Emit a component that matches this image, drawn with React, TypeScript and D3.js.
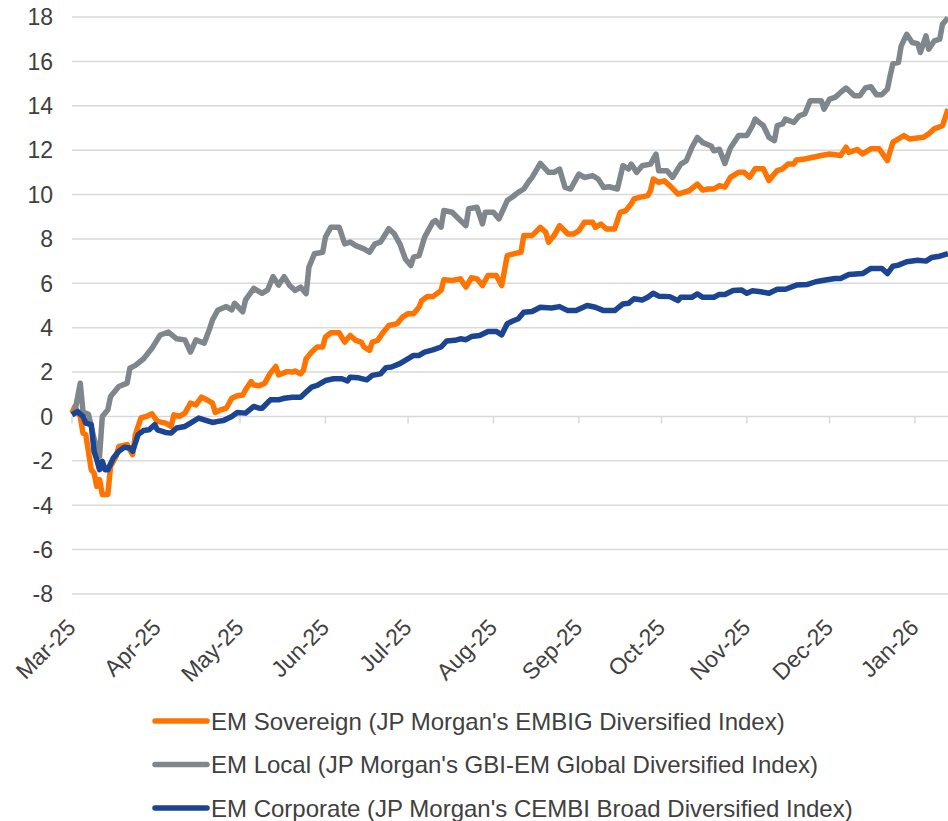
import React, { useRef, useEffect } from "react";
import * as d3 from "d3";

// cumulative total return, %
const sovereign: [string, number][] = [
  ["2025-03-01", 0.15], ["2025-03-02", 0.45], ["2025-03-04", 0.0], ["2025-03-05", -0.75],
  ["2025-03-06", -0.82], ["2025-03-08", -2.4], ["2025-03-09", -2.55], ["2025-03-10", -3.15],
  ["2025-03-11", -2.85], ["2025-03-12", -3.52], ["2025-03-14", -3.52], ["2025-03-15", -2.25],
  ["2025-03-17", -1.8], ["2025-03-18", -1.35], ["2025-03-21", -1.27], ["2025-03-23", -1.72],
  ["2025-03-24", -0.82], ["2025-03-26", -0.07], ["2025-03-28", 0.0], ["2025-03-30", 0.12],
  ["2025-04-01", -0.22], ["2025-04-04", -0.3], ["2025-04-06", -0.45], ["2025-04-07", 0.07],
  ["2025-04-09", 0.0], ["2025-04-11", 0.15], ["2025-04-13", 0.6], ["2025-04-15", 0.52],
  ["2025-04-17", 0.87], ["2025-04-19", 0.75], ["2025-04-21", 0.6], ["2025-04-22", 0.18],
  ["2025-04-24", 0.3], ["2025-04-26", 0.37], ["2025-04-28", 0.82], ["2025-04-30", 0.93],
  ["2025-05-02", 0.97], ["2025-05-03", 1.2], ["2025-05-05", 1.57], ["2025-05-06", 1.42],
  ["2025-05-08", 1.38], ["2025-05-10", 1.5], ["2025-05-12", 1.95], ["2025-05-14", 2.25],
  ["2025-05-15", 1.87], ["2025-05-18", 2.02], ["2025-05-20", 2.0], ["2025-05-21", 2.05],
  ["2025-05-23", 1.92], ["2025-05-24", 2.08], ["2025-05-25", 2.6], ["2025-05-27", 2.9],
  ["2025-05-29", 3.13], ["2025-05-31", 3.13], ["2025-06-01", 3.58], ["2025-06-03", 3.77],
  ["2025-06-06", 3.77], ["2025-06-08", 3.35], ["2025-06-10", 3.65], ["2025-06-12", 3.43],
  ["2025-06-14", 3.35], ["2025-06-15", 3.13], ["2025-06-17", 2.98], ["2025-06-18", 3.35],
  ["2025-06-20", 3.43], ["2025-06-22", 3.8], ["2025-06-24", 4.1], ["2025-06-27", 4.18],
  ["2025-06-29", 4.48], ["2025-07-01", 4.63], ["2025-07-03", 4.63], ["2025-07-05", 4.93],
  ["2025-07-06", 5.23], ["2025-07-08", 5.4], ["2025-07-10", 5.4], ["2025-07-13", 5.68],
  ["2025-07-14", 6.16], ["2025-07-17", 6.13], ["2025-07-20", 6.2], ["2025-07-22", 5.83],
  ["2025-07-24", 6.25], ["2025-07-26", 6.2], ["2025-07-28", 5.9], ["2025-07-30", 6.35],
  ["2025-08-02", 6.35], ["2025-08-04", 5.9], ["2025-08-06", 7.25], ["2025-08-09", 7.35],
  ["2025-08-11", 7.4], ["2025-08-12", 8.15], ["2025-08-15", 8.15], ["2025-08-18", 8.52],
  ["2025-08-20", 8.3], ["2025-08-21", 7.85], ["2025-08-23", 8.15], ["2025-08-25", 8.6],
  ["2025-08-28", 8.22], ["2025-08-30", 8.22], ["2025-09-01", 8.37], ["2025-09-03", 8.75],
  ["2025-09-06", 8.75], ["2025-09-07", 8.52], ["2025-09-09", 8.67], ["2025-09-11", 8.45],
  ["2025-09-14", 8.45], ["2025-09-16", 9.2], ["2025-09-18", 9.27], ["2025-09-20", 9.57],
  ["2025-09-21", 9.8], ["2025-09-23", 9.87], ["2025-09-26", 9.95], ["2025-09-27", 10.17],
  ["2025-09-28", 10.7], ["2025-09-30", 10.55], ["2025-10-02", 10.62], ["2025-10-04", 10.4],
  ["2025-10-07", 10.02], ["2025-10-09", 10.1], ["2025-10-11", 10.17], ["2025-10-14", 10.47],
  ["2025-10-16", 10.2], ["2025-10-18", 10.25], ["2025-10-20", 10.25], ["2025-10-22", 10.4],
  ["2025-10-24", 10.33], ["2025-10-26", 10.77], ["2025-10-29", 11.0], ["2025-10-31", 11.0],
  ["2025-11-02", 10.78], ["2025-11-04", 11.16], ["2025-11-07", 11.16], ["2025-11-09", 10.63],
  ["2025-11-12", 11.08], ["2025-11-14", 11.16], ["2025-11-16", 11.38], ["2025-11-18", 11.38],
  ["2025-11-19", 11.56], ["2025-11-22", 11.6], ["2025-11-25", 11.68], ["2025-11-28", 11.76],
  ["2025-12-01", 11.83], ["2025-12-05", 11.76], ["2025-12-07", 12.13], ["2025-12-08", 11.9],
  ["2025-12-11", 12.03], ["2025-12-13", 11.83], ["2025-12-16", 12.06], ["2025-12-19", 12.06],
  ["2025-12-22", 11.53], ["2025-12-24", 12.36], ["2025-12-25", 12.43], ["2025-12-28", 12.66],
  ["2025-12-30", 12.5], ["2026-01-04", 12.58], ["2026-01-06", 12.73], ["2026-01-08", 12.96],
  ["2026-01-11", 13.1], ["2026-01-13", 13.85],
];

const local: [string, number][] = [
  ["2025-03-01", 0.1], ["2025-03-02", 0.2], ["2025-03-04", 1.5], ["2025-03-05", 0.2],
  ["2025-03-07", 0.1], ["2025-03-09", -1.0], ["2025-03-11", -1.8], ["2025-03-12", 0.0],
  ["2025-03-14", 0.3], ["2025-03-15", 0.9], ["2025-03-18", 1.35], ["2025-03-21", 1.5],
  ["2025-03-22", 2.17], ["2025-03-24", 2.3], ["2025-03-27", 2.6], ["2025-03-30", 3.07],
  ["2025-04-02", 3.67], ["2025-04-05", 3.8], ["2025-04-08", 3.5], ["2025-04-11", 3.45],
  ["2025-04-13", 2.9], ["2025-04-15", 3.45], ["2025-04-18", 3.3], ["2025-04-20", 3.97],
  ["2025-04-21", 4.35], ["2025-04-23", 4.8], ["2025-04-26", 4.95], ["2025-04-28", 4.8],
  ["2025-04-29", 5.1], ["2025-05-02", 4.72], ["2025-05-03", 5.25], ["2025-05-06", 5.77],
  ["2025-05-09", 5.55], ["2025-05-11", 5.7], ["2025-05-13", 6.3], ["2025-05-15", 5.92],
  ["2025-05-17", 6.3], ["2025-05-19", 5.9], ["2025-05-21", 5.68], ["2025-05-23", 5.83],
  ["2025-05-25", 5.53], ["2025-05-26", 6.73], ["2025-05-28", 7.33], ["2025-05-31", 7.4],
  ["2025-06-01", 8.08], ["2025-06-03", 8.53], ["2025-06-06", 8.53], ["2025-06-08", 7.78],
  ["2025-06-10", 7.86], ["2025-06-12", 7.7], ["2025-06-15", 7.55], ["2025-06-17", 7.4],
  ["2025-06-19", 7.78], ["2025-06-21", 7.86], ["2025-06-24", 8.46], ["2025-06-26", 8.23],
  ["2025-06-28", 7.78], ["2025-06-30", 7.1], ["2025-07-02", 6.8], ["2025-07-03", 7.18],
  ["2025-07-05", 7.25], ["2025-07-07", 8.08], ["2025-07-10", 8.76], ["2025-07-11", 8.83],
  ["2025-07-13", 8.53], ["2025-07-14", 9.28], ["2025-07-17", 9.2], ["2025-07-20", 8.83],
  ["2025-07-22", 8.6], ["2025-07-23", 9.36], ["2025-07-26", 9.43], ["2025-07-28", 8.68],
  ["2025-07-29", 9.2], ["2025-08-01", 9.2], ["2025-08-03", 8.9], ["2025-08-06", 9.73],
  ["2025-08-08", 9.9], ["2025-08-10", 10.1], ["2025-08-12", 10.25], ["2025-08-14", 10.62],
  ["2025-08-15", 10.77], ["2025-08-18", 11.4], ["2025-08-21", 11.0], ["2025-08-23", 11.0],
  ["2025-08-25", 11.15], ["2025-08-27", 10.32], ["2025-08-29", 10.25], ["2025-09-01", 10.92],
  ["2025-09-03", 10.77], ["2025-09-06", 10.85], ["2025-09-08", 10.7], ["2025-09-10", 10.32],
  ["2025-09-12", 10.35], ["2025-09-15", 10.25], ["2025-09-17", 11.3], ["2025-09-19", 11.15],
  ["2025-09-20", 11.37], ["2025-09-22", 11.0], ["2025-09-24", 11.3], ["2025-09-27", 11.37],
  ["2025-09-29", 11.82], ["2025-09-30", 11.07], ["2025-10-03", 11.07], ["2025-10-05", 10.77],
  ["2025-10-08", 11.37], ["2025-10-10", 11.52], ["2025-10-12", 12.12], ["2025-10-14", 12.57],
  ["2025-10-16", 12.34], ["2025-10-19", 12.19], ["2025-10-20", 11.97], ["2025-10-22", 12.04],
  ["2025-10-24", 11.4], ["2025-10-26", 12.1], ["2025-10-29", 12.66], ["2025-11-01", 12.66],
  ["2025-11-03", 13.1], ["2025-11-04", 13.4], ["2025-11-07", 13.1], ["2025-11-09", 12.58],
  ["2025-11-11", 12.43], ["2025-11-12", 13.1], ["2025-11-14", 13.18], ["2025-11-15", 13.4],
  ["2025-11-18", 13.25], ["2025-11-20", 13.55], ["2025-11-22", 13.63], ["2025-11-24", 14.23],
  ["2025-11-28", 14.23], ["2025-11-29", 13.85], ["2025-12-01", 14.3], ["2025-12-03", 14.38],
  ["2025-12-05", 14.6], ["2025-12-07", 14.8], ["2025-12-10", 14.45], ["2025-12-12", 14.45],
  ["2025-12-14", 14.8], ["2025-12-16", 14.86], ["2025-12-18", 14.5], ["2025-12-20", 14.5],
  ["2025-12-22", 14.75], ["2025-12-23", 15.35], ["2025-12-24", 15.9], ["2025-12-26", 15.95],
  ["2025-12-27", 16.7], ["2025-12-29", 17.22], ["2025-12-31", 16.85], ["2026-01-02", 16.8],
  ["2026-01-03", 16.4], ["2026-01-05", 17.15], ["2026-01-06", 16.55], ["2026-01-08", 16.92],
  ["2026-01-10", 17.0], ["2026-01-11", 17.67], ["2026-01-13", 17.97],
];

const corporate: [string, number][] = [
  ["2025-03-01", 0.07], ["2025-03-03", 0.22], ["2025-03-05", 0.0], ["2025-03-06", -0.3],
  ["2025-03-08", -0.37], ["2025-03-09", -1.57], ["2025-03-10", -1.95], ["2025-03-11", -2.4],
  ["2025-03-12", -2.02], ["2025-03-13", -2.4], ["2025-03-14", -2.4], ["2025-03-16", -1.87],
  ["2025-03-18", -1.57], ["2025-03-20", -1.39], ["2025-03-22", -1.42], ["2025-03-23", -1.57],
  ["2025-03-25", -0.82], ["2025-03-27", -0.63], ["2025-03-29", -0.6], ["2025-03-31", -0.37],
  ["2025-04-01", -0.6], ["2025-04-04", -0.72], ["2025-04-06", -0.75], ["2025-04-08", -0.52],
  ["2025-04-11", -0.45], ["2025-04-13", -0.3], ["2025-04-16", -0.07], ["2025-04-18", -0.15],
  ["2025-04-21", -0.27], ["2025-04-23", -0.22], ["2025-04-25", -0.18], ["2025-04-28", 0.0],
  ["2025-04-30", 0.18], ["2025-05-03", 0.15], ["2025-05-06", 0.45], ["2025-05-08", 0.37],
  ["2025-05-09", 0.37], ["2025-05-12", 0.75], ["2025-05-15", 0.75], ["2025-05-17", 0.82],
  ["2025-05-20", 0.87], ["2025-05-23", 0.87], ["2025-05-25", 1.1], ["2025-05-27", 1.32],
  ["2025-05-29", 1.4], ["2025-06-01", 1.62], ["2025-06-04", 1.7], ["2025-06-07", 1.7],
  ["2025-06-09", 1.6], ["2025-06-10", 1.77], ["2025-06-13", 1.74], ["2025-06-16", 1.65],
  ["2025-06-18", 1.85], ["2025-06-21", 1.92], ["2025-06-23", 2.2], ["2025-06-25", 2.23],
  ["2025-06-28", 2.38], ["2025-06-30", 2.53], ["2025-07-03", 2.75], ["2025-07-05", 2.75],
  ["2025-07-07", 2.9], ["2025-07-10", 3.0], ["2025-07-13", 3.13], ["2025-07-15", 3.4],
  ["2025-07-18", 3.43], ["2025-07-20", 3.5], ["2025-07-22", 3.46], ["2025-07-24", 3.6],
  ["2025-07-27", 3.65], ["2025-07-30", 3.83], ["2025-08-02", 3.83], ["2025-08-04", 3.68],
  ["2025-08-06", 4.18], ["2025-08-08", 4.3], ["2025-08-10", 4.4], ["2025-08-12", 4.7],
  ["2025-08-15", 4.73], ["2025-08-18", 4.92], ["2025-08-22", 4.89], ["2025-08-25", 4.95],
  ["2025-08-28", 4.77], ["2025-08-31", 4.77], ["2025-09-04", 5.0], ["2025-09-07", 4.92],
  ["2025-09-10", 4.77], ["2025-09-14", 4.77], ["2025-09-17", 5.07], ["2025-09-19", 5.1],
  ["2025-09-21", 5.3], ["2025-09-24", 5.25], ["2025-09-26", 5.37], ["2025-09-28", 5.55],
  ["2025-09-30", 5.42], ["2025-10-04", 5.4], ["2025-10-07", 5.22], ["2025-10-08", 5.37],
  ["2025-10-12", 5.37], ["2025-10-14", 5.52], ["2025-10-16", 5.37], ["2025-10-20", 5.37],
  ["2025-10-22", 5.5], ["2025-10-24", 5.5], ["2025-10-27", 5.68], ["2025-10-30", 5.7],
  ["2025-11-01", 5.55], ["2025-11-03", 5.66], ["2025-11-06", 5.62], ["2025-11-09", 5.55],
  ["2025-11-12", 5.73], ["2025-11-15", 5.73], ["2025-11-19", 5.92], ["2025-11-23", 5.95],
  ["2025-11-26", 6.07], ["2025-11-29", 6.14], ["2025-12-03", 6.22], ["2025-12-05", 6.22],
  ["2025-12-08", 6.4], ["2025-12-13", 6.44], ["2025-12-16", 6.67], ["2025-12-20", 6.67],
  ["2025-12-22", 6.44], ["2025-12-24", 6.77], ["2025-12-26", 6.82], ["2025-12-29", 6.97],
  ["2026-01-02", 7.04], ["2026-01-05", 7.0], ["2026-01-07", 7.16], ["2026-01-10", 7.22],
  ["2026-01-13", 7.34],
];

const seriesNames = [
  "EM Sovereign (JP Morgan's EMBIG Diversified Index)",
  "EM Local (JP Morgan's GBI-EM Global Diversified Index)",
  "EM Corporate (JP Morgan's CEMBI Broad Diversified Index)",
];
const seriesColors = ["#ff7300", "#7f868c", "#1b4592"];

const monthTicks = [
  "2025-03-01", "2025-04-01", "2025-05-01", "2025-06-01", "2025-07-01", "2025-08-01",
  "2025-09-01", "2025-10-01", "2025-11-01", "2025-12-01", "2026-01-01",
];
const yTicks = [-8, -6, -4, -2, 0, 2, 4, 6, 8, 10, 12, 14, 16, 18];

const FONT = "'Liberation Sans', Arial, sans-serif";

const App = () => {
  const svgRef = useRef<SVGSVGElement>(null);

  useEffect(() => {
    const svg = d3.select(svgRef.current);
    svg.selectAll("*").remove();

    const parse = d3.timeParse("%Y-%m-%d");
    const fmt = d3.timeFormat("%b-%y");

    const x = d3
      .scaleTime()
      .domain([parse("2025-03-01")!, parse("2026-01-13")!])
      .range([72, 948]);
    const y = d3.scaleLinear().domain([-8, 18]).range([594, 17]);

    // gridlines
    svg
      .append("g")
      .selectAll("line")
      .data(yTicks)
      .enter()
      .append("line")
      .attr("x1", 72)
      .attr("x2", 948)
      .attr("y1", (d) => y(d))
      .attr("y2", (d) => y(d))
      .attr("stroke", "#d9d9d9")
      .attr("stroke-width", 1.5);

    // y labels
    svg
      .append("g")
      .selectAll("text")
      .data(yTicks)
      .enter()
      .append("text")
      .attr("x", 53)
      .attr("y", (d) => y(d))
      .attr("dy", "0.36em")
      .attr("text-anchor", "end")
      .attr("font-family", FONT)
      .attr("font-size", 23)
      .attr("fill", "#404040")
      .text((d) => d);

    // month tick marks sit on the zero line
    const months = monthTicks.map((m) => parse(m)!);
    svg
      .append("g")
      .selectAll("line")
      .data(months)
      .enter()
      .append("line")
      .attr("x1", (d) => x(d))
      .attr("x2", (d) => x(d))
      .attr("y1", y(0))
      .attr("y2", y(0) + 7)
      .attr("stroke", "#d9d9d9")
      .attr("stroke-width", 1.5);

    svg
      .append("g")
      .selectAll("text")
      .data(months)
      .enter()
      .append("text")
      .attr(
        "transform",
        (d) => `translate(${x(d) + 5}, 629) rotate(-45)`
      )
      .attr("text-anchor", "end")
      .attr("font-family", FONT)
      .attr("font-size", 23)
      .attr("fill", "#404040")
      .text((d) => fmt(d));

    const line = d3
      .line<[string, number]>()
      .x((d) => x(parse(d[0])!))
      .y((d) => y(d[1]));

    [sovereign, local, corporate].forEach((data, i) => {
      svg
        .append("path")
        .datum(data)
        .attr("d", line)
        .attr("fill", "none")
        .attr("stroke", seriesColors[i])
        .attr("stroke-width", 5.5)
        .attr("stroke-linejoin", "round");
    });

    // legend
    const legend = svg
      .append("g")
      .selectAll("g")
      .data(seriesNames)
      .enter()
      .append("g")
      .attr("transform", (d, i) => `translate(0, ${721 + i * 43.5})`);

    legend
      .append("line")
      .attr("x1", 155)
      .attr("x2", 207)
      .attr("stroke", (d, i) => seriesColors[i])
      .attr("stroke-width", 5.5)
      .attr("stroke-linecap", "round");

    legend
      .append("text")
      .attr("x", 211)
      .attr("dy", "0.36em")
      .attr("font-family", FONT)
      .attr("font-size", 24)
      .attr("fill", "#404040")
      .text((d) => d);
  }, []);

  return (
    <svg
      ref={svgRef}
      width="948"
      height="821"
      style={{ position: "absolute", left: 0, top: 0, background: "#fff" }}
    />
  );
};

export default App;
